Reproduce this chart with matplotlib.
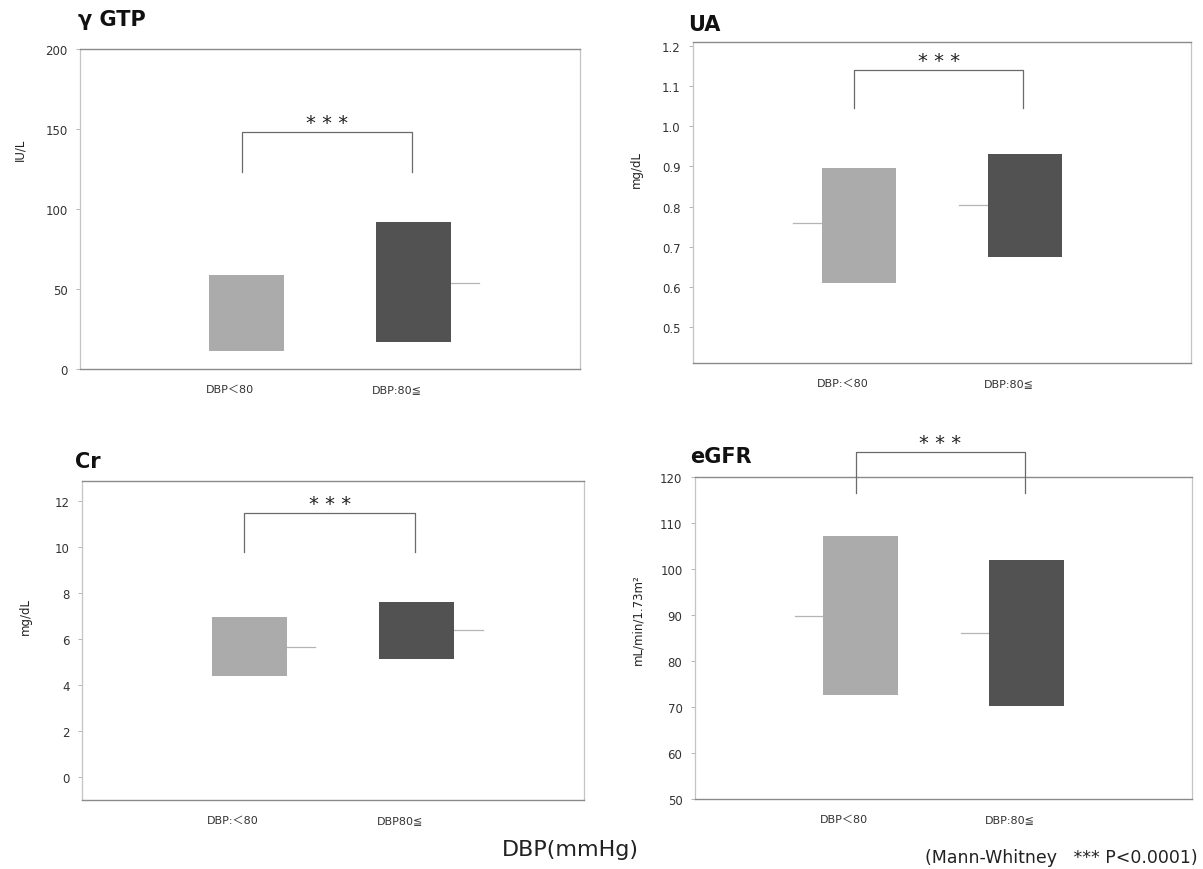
import matplotlib
matplotlib.use("Agg")
import matplotlib.pyplot as plt

plt.rcParams['font.family'] = ['DejaVu Sans', 'Noto Sans CJK JP']

# ---------------- data ----------------
groups_gtp = ["DBP＜80", "DBP:80≦"]
groups_ua = ["DBP:＜80", "DBP:80≦"]
groups_cr = ["DBP:＜80", "DBP80≦"]
groups_egfr = ["DBP＜80", "DBP:80≦"]

titles = ["γ GTP", "UA", "Cr", "eGFR"]
units = ["IU/L", "mg/dL", "mg/dL", "mL/min/1.73m²"]

# interquartile boxes (lower, upper)
gtp_q1 = [11, 17]
gtp_q3 = [58.5, 92]
ua_q1 = [0.61, 0.675]
ua_q3 = [0.895, 0.93]
cr_q1 = [4.4, 5.15]
cr_q3 = [6.95, 7.6]
egfr_q1 = [72.6, 70.2]
egfr_q3 = [107.2, 102]

# medians (None = not visible)
gtp_med = [None, 54]
ua_med = [0.76, 0.805]
cr_med = [5.65, 6.4]
egfr_med = [89.8, 86]

# significance bracket (top, leg bottom)
gtp_br = [148, 123]
ua_br = [1.14, 1.045]
cr_br = [11.5, 9.8]
egfr_br = [125.4, 116.5]

gtp_ticks = [0, 50, 100, 150, 200]
ua_ticks = [0.5, 0.6, 0.7, 0.8, 0.9, 1.0, 1.1, 1.2]
cr_ticks = [0, 2, 4, 6, 8, 10, 12]
egfr_ticks = [50, 60, 70, 80, 90, 100, 110, 120]

# ---------------- layout / style ----------------
W, H = 1203, 870
fig = plt.figure(figsize=(W / 100, H / 100), dpi=100)

def px_axes(x0, x1, ytop, ybot):
    return fig.add_axes([x0 / W, 1 - ybot / H, (x1 - x0) / W, (ybot - ytop) / H])

bar_colors = ["#ababab", "#525252"]
panels = [
    dict(rect=(80, 580, 50, 370), ylim=(0, 200), ticks=gtp_ticks, fmt="{:g}",
         q1=gtp_q1, q3=gtp_q3, med=gtp_med, side=+1, br=gtp_br, groups=groups_gtp,
         title=titles[0], tpos=(78, 20), unit=units[0], upos=(20, 150)),
    dict(rect=(693, 1191, 43, 364), ylim=(0.41, 1.21), ticks=ua_ticks, fmt="{:.1f}",
         q1=ua_q1, q3=ua_q3, med=ua_med, side=-1, br=ua_br, groups=groups_ua,
         title=titles[1], tpos=(688, 25), unit=units[1], upos=(636, 170)),
    dict(rect=(82, 584, 482, 801), ylim=(-1, 12.87), ticks=cr_ticks, fmt="{:g}",
         q1=cr_q1, q3=cr_q3, med=cr_med, side=+1, br=cr_br, groups=groups_cr,
         title=titles[2], tpos=(75, 462), unit=units[2], upos=(25, 617)),
    dict(rect=(695, 1192, 478, 800), ylim=(50, 120), ticks=egfr_ticks, fmt="{:g}",
         q1=egfr_q1, q3=egfr_q3, med=egfr_med, side=-1, br=egfr_br, groups=groups_egfr,
         title=titles[3], tpos=(690, 457), unit=units[3], upos=(638, 620)),
]

width = 0.45
for p in panels:
    ax = px_axes(*p["rect"])
    pos = list(range(len(p["q1"])))
    heights = [b - a for a, b in zip(p["q1"], p["q3"])]
    ax.bar(pos, heights, bottom=p["q1"], width=width, color=bar_colors, zorder=3)
    for i, m in enumerate(p["med"]):
        if m is None:
            continue
        s = p["side"]
        xa = pos[i] + s * width / 2
        xb = pos[i] + s * (width / 2 + 0.17)
        ax.plot([xa, xb], [m, m], color="#b5b5b5", lw=0.9, zorder=2)
    top, leg = p["br"]
    ax.plot([pos[0] - 0.03, pos[0] - 0.03, pos[1] - 0.01, pos[1] - 0.01],
            [leg, top, top, leg], color="#6a6a6a", lw=0.9, clip_on=False, zorder=4)
    ax.text((pos[0] + pos[1]) / 2 - 0.02, top, "* * *", ha="center", va="bottom",
            fontsize=14, color="#222222", clip_on=False)
    ax.set_xlim(-1, 2)
    ax.set_ylim(*p["ylim"])
    ax.set_yticks(p["ticks"])
    ax.set_yticklabels([p["fmt"].format(t) for t in p["ticks"]])
    ax.set_xticks([x - 0.1 for x in pos])
    ax.set_xticklabels(p["groups"])
    ax.tick_params(axis="y", length=3, width=0.6, color="#aaaaaa", labelsize=8.5,
                   labelcolor="#333333", pad=6)
    ax.tick_params(axis="x", length=0, labelsize=8, labelcolor="#333333", pad=11)
    for sname in ["top", "bottom"]:
        ax.spines[sname].set_color("#8a8a8a")
        ax.spines[sname].set_linewidth(1.0)
    for sname in ["left", "right"]:
        ax.spines[sname].set_color("#c4c4c4")
        ax.spines[sname].set_linewidth(0.9)
    fig.text(p["tpos"][0] / W, 1 - p["tpos"][1] / H, p["title"], fontsize=15,
             fontweight="bold", ha="left", va="center", color="#111111")
    fig.text(p["upos"][0] / W, 1 - p["upos"][1] / H, p["unit"], fontsize=8.5,
             rotation=90, ha="center", va="center", color="#222222")

fig.text(570 / W, 1 - 850 / H, "DBP(mmHg)", fontsize=16, ha="center", va="center",
         color="#222222")
fig.text(1198 / W, 1 - 858 / H, "(Mann-Whitney   *** P<0.0001)", fontsize=12.5,
         ha="right", va="center", color="#222222")

fig.savefig("out.png", dpi=100)
